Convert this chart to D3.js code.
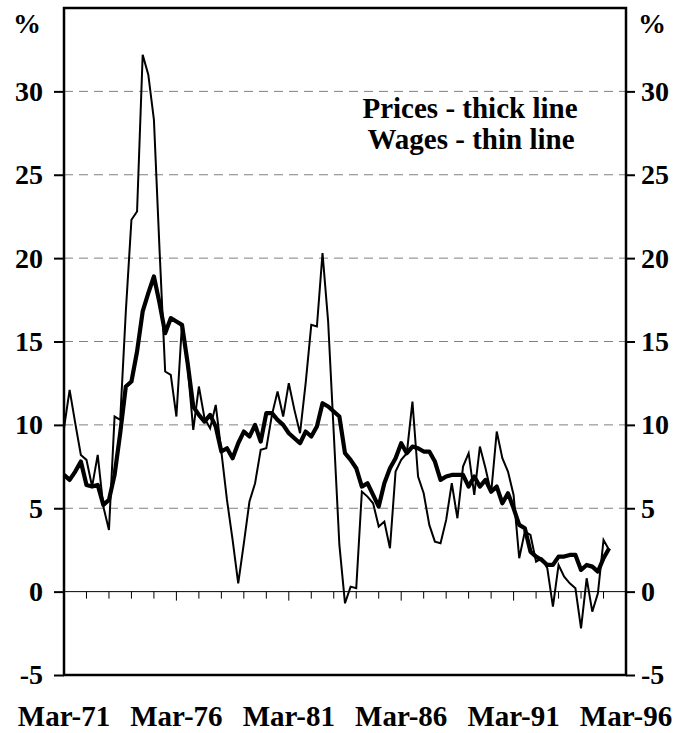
<!DOCTYPE html>
<html>
<head>
<meta charset="utf-8">
<script src="https://cdn.jsdelivr.net/npm/d3@7"></script>
<style>
	body { margin: 0; background: #fff; }
	text { font-family: "Liberation Serif", "Times New Roman", serif; font-weight: bold; fill: #000; }
</style>
</head>
<body>
<div id="chart"></div>
<script>
// quarterly categories Mar-71 .. Mar-96
var months = ['Mar', 'Jun', 'Sep', 'Dec'];
var years = ['71', '72', '73', '74', '75', '76', '77', '78', '79', '80', '81', '82', '83',
	'84', '85', '86', '87', '88', '89', '90', '91', '92', '93', '94', '95', '96'];
var quarters = [];
years.forEach(function (y) {
	months.forEach(function (m) {
		if (y === '96' && m !== 'Mar') return;
		quarters.push(m + '-' + y);
	});
});

var xLabels = ['Mar-71', 'Mar-76', 'Mar-81', 'Mar-86', 'Mar-91', 'Mar-96'];
var yTicks = [-5, 0, 5, 10, 15, 20, 25, 30];
var gridValues = [5, 10, 15, 20, 25, 30];

// prices - thick line (Mar-71 .. Jun-95)
var prices = [
	7.0, 6.7, 7.2, 7.8, 6.4, 6.3, 6.4, 5.2, 5.5, 7.0, 9.5, 12.3, 12.6, 14.4, 16.8, 17.9, 18.9, 17.3, 15.5, 16.4, 16.2,
	16.0, 13.7, 11.1, 10.6, 10.2, 10.6, 9.9, 8.4, 8.6, 8.0, 8.9, 9.6, 9.3, 10.0, 9.0, 10.7, 10.7, 10.3, 10.0,
	9.5, 9.2, 8.9, 9.6, 9.3, 9.9, 11.3, 11.1, 10.8, 10.5, 8.3, 7.9, 7.4, 6.3, 6.5, 5.8, 5.1, 6.5, 7.4, 8.0, 8.9,
	8.3, 8.7, 8.6, 8.4, 8.4, 7.8, 6.7, 6.9, 7.0, 7.0, 7.0, 6.3, 6.9, 6.3, 6.7, 6.0, 6.3, 5.3, 5.9, 5.0,
	4.0, 3.8, 2.4, 2.1, 1.9, 1.6, 1.6, 2.1, 2.1, 2.2, 2.2, 1.3, 1.6, 1.5, 1.2, 2.0, 2.6
];

// wages - thin line
var wages = [
	9.8, 12.1, 10.1, 8.2, 7.9, 6.3, 8.2, 5.1, 3.7, 10.5, 10.3, 16.8, 22.3, 22.8, 32.2, 31.0, 28.3, 20.5, 13.2, 13.0, 10.5,
	16.1, 13.5, 9.7, 12.3, 10.4, 9.8, 11.2, 8.4, 5.5, 3.1, 0.5, 2.9, 5.4, 6.5, 8.5, 8.6, 10.6, 12.0, 10.5, 12.5,
	10.9, 9.5, 12.5, 16.0, 15.9, 20.3, 16.2, 9.5, 2.8, -0.7, 0.3, 0.2, 6.0, 5.7, 5.3, 3.9, 4.2, 2.6, 7.2, 7.9,
	8.3, 11.4, 6.9, 5.9, 4.0, 3.0, 2.9, 4.3, 6.5, 4.4, 7.5, 8.3, 5.8, 8.7, 7.4, 5.9, 9.6, 8.0, 7.2, 5.8,
	2.0, 3.6, 3.4, 1.8, 2.0, 1.4, -0.9, 1.6, 0.9, 0.5, 0.2, -2.2, 0.8, -1.2, -0.1, 3.1, 2.5
];

var width = 679, height = 733;
var plotLeft = 64, plotRight = 626, plotTop = 8, plotBottom = 675;
var serif = '"Liberation Serif", "Times New Roman", serif';

var svg = d3.select('#chart')
	.append('svg')
	.attr('width', width)
	.attr('height', height);

var x = d3.scalePoint().domain(quarters).range([plotLeft, plotRight]);
var y = d3.scaleLinear().domain([-5, 35]).range([plotBottom, plotTop]);

//dashed grid lines
svg.append('g')
	.selectAll('line')
	.data(gridValues)
	.enter()
	.append('line')
	.attr('x1', plotLeft).attr('x2', plotRight)
	.attr('y1', function (d) { return y(d); })
	.attr('y2', function (d) { return y(d); })
	.attr('stroke', '#808080')
	.attr('stroke-width', 1)
	.attr('stroke-dasharray', '9,6');

//zero line with yearly ticks
svg.append('line')
	.attr('x1', plotLeft).attr('x2', plotRight)
	.attr('y1', y(0)).attr('y2', y(0))
	.attr('stroke', '#000')
	.attr('stroke-width', 1);

var yearTicks = quarters.filter(function (q, i) { return i > 0 && i % 4 === 0; });
svg.append('g')
	.selectAll('line')
	.data(yearTicks)
	.enter()
	.append('line')
	.attr('x1', function (d) { return x(d); })
	.attr('x2', function (d) { return x(d); })
	.attr('y1', y(0))
	.attr('y2', function (d) { return xLabels.indexOf(d) >= 0 ? y(0) + 9 : y(0) + 7; })
	.attr('stroke', '#000')
	.attr('stroke-width', 1);

//series
var line = d3.line()
	.x(function (d, i) { return x(quarters[i]); })
	.y(function (d) { return y(d); });

svg.append('path')
	.datum(wages)
	.attr('d', line)
	.attr('fill', 'none')
	.attr('stroke', '#000')
	.attr('stroke-width', 2)
	.attr('stroke-linejoin', 'miter');

svg.append('path')
	.datum(prices)
	.attr('d', line)
	.attr('fill', 'none')
	.attr('stroke', '#000')
	.attr('stroke-width', 4.2)
	.attr('stroke-linejoin', 'round');

//frame
svg.append('rect')
	.attr('x', plotLeft).attr('y', plotTop)
	.attr('width', plotRight - plotLeft).attr('height', plotBottom - plotTop)
	.attr('fill', 'none')
	.attr('stroke', '#000')
	.attr('stroke-width', 2.5);

//y axes on both sides
var yLeft = svg.append('g')
	.attr('transform', 'translate(' + plotLeft + ',0)')
	.call(d3.axisLeft(y).tickValues(yTicks).tickSize(10).tickPadding(11));
var yRight = svg.append('g')
	.attr('transform', 'translate(' + plotRight + ',0)')
	.call(d3.axisRight(y).tickValues(yTicks).tickSize(9).tickPadding(6));

[yLeft, yRight].forEach(function (g) {
	g.attr('font-family', serif)
		.attr('font-size', 28)
		.attr('font-weight', 'bold');
	g.select('.domain').remove();
	g.selectAll('.tick line').attr('stroke', '#000').attr('stroke-width', 2);
	g.selectAll('.tick text')
		.style('font-family', serif)
		.style('font-weight', 'bold')
		.style('font-size', '28px')
		.attr('fill', '#000')
		.text(function (d) { return d < 0 ? '-' + Math.abs(d) : d; });
});

//percent signs
svg.append('text').attr('x', 27).attr('y', 33).attr('text-anchor', 'middle').attr('font-size', 28).text('%');
svg.append('text').attr('x', 652).attr('y', 33).attr('text-anchor', 'middle').attr('font-size', 28).text('%');

//category labels
svg.append('g')
	.selectAll('text')
	.data(xLabels)
	.enter()
	.append('text')
	.attr('x', function (d) { return x(d); })
	.attr('y', 726)
	.attr('text-anchor', 'middle')
	.attr('font-size', 29)
	.text(function (d) { return d; });

//legend text
svg.append('text').attr('x', 470).attr('y', 118).attr('text-anchor', 'middle').attr('font-size', 29).text('Prices - thick line');
svg.append('text').attr('x', 471).attr('y', 149).attr('text-anchor', 'middle').attr('font-size', 29).text('Wages - thin line');
</script>
</body>
</html>
